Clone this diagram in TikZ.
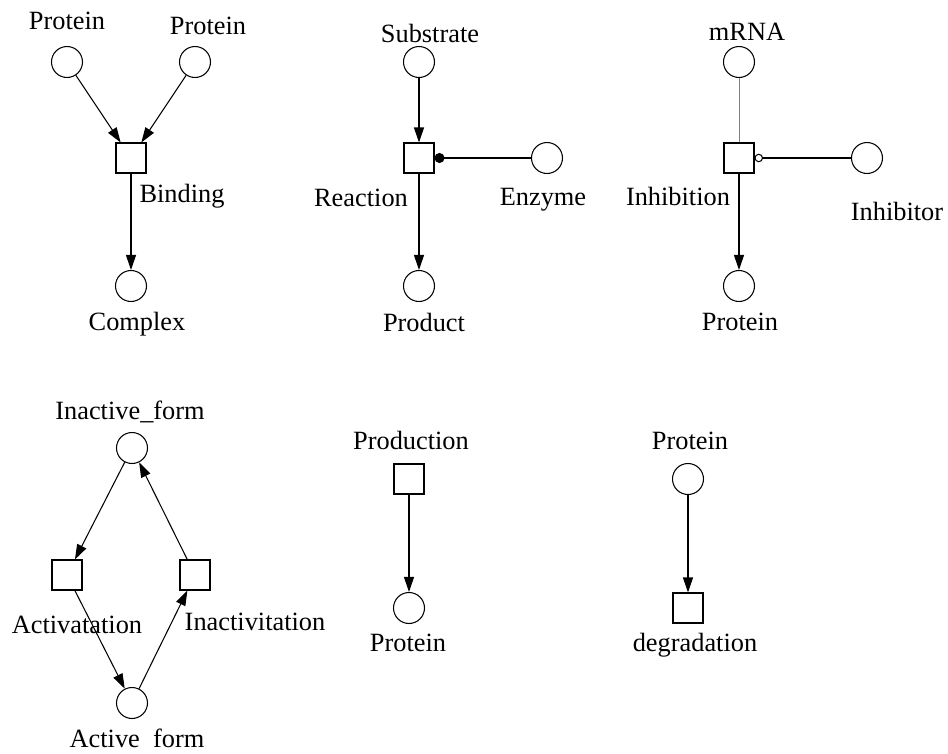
\documentclass[tikz,border=0pt]{standalone}
\usepackage{fontspec}
\setmainfont{Liberation Serif}
\usetikzlibrary{arrows.meta}

\tikzset{
  place/.style={circle,draw,line width=0.6pt,minimum size=0.62cm,inner sep=0pt},
  trans/.style={rectangle,draw,line width=0.6pt,minimum size=0.6cm,inner sep=0pt},
  lbl/.style={inner sep=0pt,font=\fontsize{15}{18}\selectfont},
  arc/.style={line width=0.6pt,-{Triangle[length=3mm,width=2mm]}},
  modif/.style={line width=0.6pt,-{Circle[length=2mm]}},
  inhib/.style={line width=0.6pt,-{Circle[open,length=1.7mm]}}
}

\begin{document}
\begin{tikzpicture}[x=0.02cm,y=-0.02cm]
\useasboundingbox (0,0) rectangle (948,754);

% binding
\node[place] (prA) at (67,62) {};
\node[place] (prB) at (195,62) {};
\node[trans] (bind) at (131,158) {};
\node[place] (cplx) at (131,286) {};
\node[lbl] (prAl) at (67,21) {Protein};
\node[lbl] (prBl) at (208,26) {Protein};
\node[lbl] (bindl) at (182,196) {Binding};
\node[lbl] (cplxl) at (137,324) {Complex};
\draw[arc] (prA) -- (bind);
\draw[arc] (prB) -- (bind);
\draw[arc] (bind) -- (cplx);

% enzyme reaction
\node[place] (subs) at (419,62) {};
\node[trans] (reac) at (419,158) {};
\node[place] (enz) at (547,158) {};
\node[place] (prod) at (419,286) {};
\node[lbl] (subsl) at (430,33) {Substrate};
\node[lbl] (reacl) at (361,198) {Reaction};
\node[lbl] (enzl) at (543,200) {Enzyme};
\node[lbl] (prodl) at (424,322) {Product};
\draw[arc] (subs) -- (reac);
\draw[modif] (enz) -- (reac);
\draw[arc] (reac) -- (prod);

% inhibition
\node[place] (mrna) at (739,62) {};
\node[trans] (inh) at (739,158) {};
\node[place] (inhr) at (867,158) {};
\node[place] (prC) at (739,286) {};
\node[lbl] (mrnal) at (747,32) {mRNA};
\node[lbl] (inhl) at (678,196) {Inhibition};
\node[lbl] (inhrl) at (897,211) {Inhibitor};
\node[lbl] (prCl) at (740,322) {Protein};
\draw[gray,line width=0.5pt] (mrna) -- (inh);
\draw[inhib] (inhr) -- (inh);
\draw[arc] (inh) -- (prC);

% activation cycle
\node[place] (inact) at (132,448) {};
\node[trans] (actv) at (67,575) {};
\node[trans] (inactv) at (195,575) {};
\node[place] (act) at (132,703) {};
\node[lbl] (inactl) at (130,412) {Inactive\_form};
\node[lbl] (actvl) at (77,625) {Activatation};
\node[lbl] (inactvl) at (255,622) {Inactivitation};
\node[lbl] (actl) at (137,740) {Active\phantom{\_}form};
\draw[arc] (inact) -- (actv);
\draw[arc] (actv) -- (act);
\draw[arc] (act) -- (inactv);
\draw[arc] (inactv) -- (inact);

% production
\node[trans] (pdn) at (409,479) {};
\node[place] (prD) at (409,608) {};
\node[lbl] (pdnl) at (411,440) {Production};
\node[lbl] (prDl) at (408,643) {Protein};
\draw[arc] (pdn) -- (prD);

% degradation
\node[place] (prE) at (688,479) {};
\node[trans] (degr) at (688,608) {};
\node[lbl] (prEl) at (690,441) {Protein};
\node[lbl] (degrl) at (695,645) {degradation};
\draw[arc] (prE) -- (degr);
\end{tikzpicture}
\end{document}
